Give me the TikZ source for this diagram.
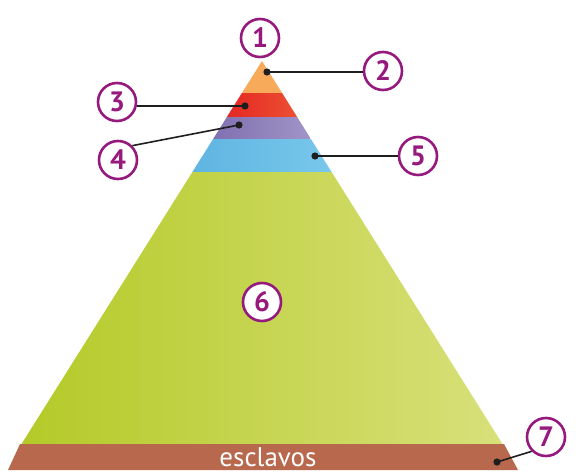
\documentclass[tikz,border=0pt]{standalone}
\usepackage{fontspec}
\setmainfont{PT Sans}
\definecolor{numc}{RGB}{150,25,125}
\definecolor{orng}{RGB}{246,170,90}
\definecolor{redl}{RGB}{228,40,35}
\definecolor{redr}{RGB}{236,80,50}
\definecolor{purl}{RGB}{128,112,176}
\definecolor{purr}{RGB}{160,148,200}
\definecolor{blul}{RGB}{95,180,225}
\definecolor{blur}{RGB}{120,200,235}
\definecolor{grnl}{RGB}{180,202,40}
\definecolor{grnr}{RGB}{216,224,122}
\definecolor{brwn}{RGB}{184,104,76}
\definecolor{lnc}{RGB}{30,30,30}
\tikzset{
  num/.style={circle, draw=numc, line width=2.6pt, fill=white, minimum size=38pt, inner sep=0pt, text=numc, font=\fontsize{28}{28}\selectfont\bfseries},
  conn/.style={draw=lnc, line width=1.6pt},
  dotm/.style={fill=lnc}
}
\begin{document}
\begin{tikzpicture}[x=1pt,y=-1pt]
\useasboundingbox (0,0) rectangle (576,474);
% bands
\fill[orng] (262,61) -- (282.1,93) -- (241.9,93) -- cycle;
\shade[left color=redl, right color=redr] (241.9,93) -- (282.1,93) -- (297.1,117) -- (226.9,117) -- cycle;
\shade[left color=purl, right color=purr] (226.9,117) -- (297.1,117) -- (310.9,139) -- (213.1,139) -- cycle;
\shade[left color=blul, right color=blur] (213.1,139) -- (310.9,139) -- (331.6,172) -- (192.4,172) -- cycle;
\shade[left color=grnl, right color=grnr] (192.4,172) -- (331.6,172) -- (502.5,444) -- (21.5,444) -- cycle;
\fill[brwn] (20,444) -- (504,444) -- (518,470) -- (8,470) -- cycle;
\node[text=white, inner sep=0pt, anchor=base, font=\fontsize{27}{27}\selectfont] (lab) at (268,466) {esclavos};
% connector points
\coordinate (d2) at (267,72);
\coordinate (d3) at (245,106);
\coordinate (d4) at (239,125);
\coordinate (d5) at (315,156);
\coordinate (d7) at (497,462);
% circles
\node[num] (c1) at (260,38) {1};
\node[num] (c2) at (383,71) {2};
\node[num] (c3) at (117,102) {3};
\node[num] (c4) at (118,160) {4};
\node[num] (c5) at (418,156) {5};
\node[num] (c6) at (262,302) {6};
\node[num] (c7) at (546,437) {7};
% connectors
\draw[conn] (d2) -- (d2 -| c2.west);
\draw[conn] (d3) -- (d3 -| c3.east);
\draw[conn] (d4) -- (c4.north east);
\draw[conn] (d5) -- (c5.west);
\draw[conn] (d7) -- (c7.south west);
\foreach \p in {d2,d3,d4,d5,d7} \fill[dotm] (\p) circle (3.6);
\end{tikzpicture}
\end{document}
